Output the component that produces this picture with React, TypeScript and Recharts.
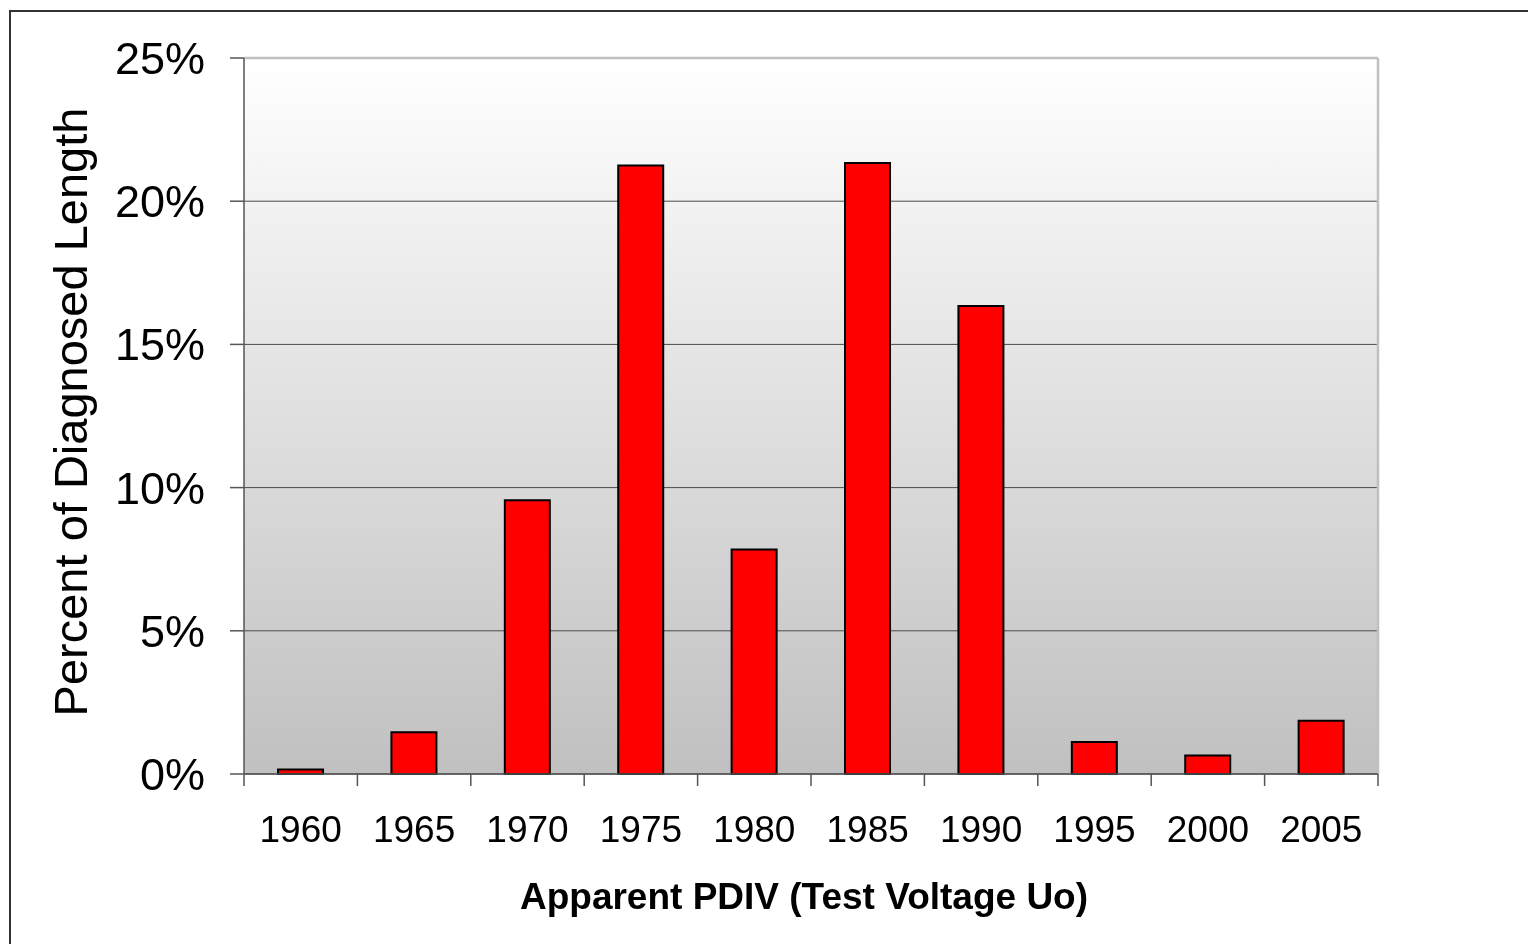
import React from "react";
import { BarChart, Bar, XAxis, YAxis, CartesianGrid, ReferenceLine } from "recharts";

const categories = ["1960", "1965", "1970", "1975", "1980", "1985", "1990", "1995", "2000", "2005"];
const percentValues = [0.16, 1.46, 9.56, 21.25, 7.84, 21.33, 16.34, 1.12, 0.65, 1.86];
const yTicks = [0, 5, 10, 15, 20, 25];

const data = categories.map((c, i) => ({ year: c, value: percentValues[i] }));

const FONT = "'Liberation Sans', Arial, sans-serif";

const XTick = (props: any) => {
  const { x, y, payload, index, visibleTicksCount, width } = props;
  const count = visibleTicksCount || categories.length;
  const half = width / count / 2;
  const last = index === count - 1;
  return (
    <g>
      <line x1={x - half} x2={x - half} y1={y} y2={y + 12} stroke="#555" strokeWidth={1.5} />
      {last && <line x1={x + half} x2={x + half} y1={y} y2={y + 12} stroke="#555" strokeWidth={1.5} />}
      <text x={x} y={y + 68} textAnchor="middle" fontSize={37} fill="#000" fontFamily={FONT}>
        {payload.value}
      </text>
    </g>
  );
};

export default function App() {
  return (
    <div style={{ position: "relative", width: 1512, height: 928, background: "#fff" }}>
      <div
        style={{
          position: "fixed",
          left: 9,
          top: 10,
          width: 1700,
          height: 1100,
          border: "2px solid #333",
          boxSizing: "border-box",
          pointerEvents: "none",
        }}
      />
      <div style={{ position: "absolute", left: 0, top: 0 }}>
        <BarChart
          width={1512}
          height={928}
          data={data}
          margin={{ top: 50, right: 142, left: 0, bottom: 27 }}
          barCategoryGap="30%"
        >
          <defs>
            <linearGradient id="bgGrad" x1="0" y1="0" x2="0" y2="1">
              <stop offset="0%" stopColor="#ffffff" />
              <stop offset="100%" stopColor="#c0c0c0" />
            </linearGradient>
          </defs>
          <CartesianGrid vertical={false} stroke="#4a4a4a" strokeWidth={1} fill="url(#bgGrad)" fillOpacity={1} />
          <XAxis
            dataKey="year"
            height={135}
            tickLine={false}
            tickSize={0}
            tickMargin={0}
            axisLine={{ stroke: "#555", strokeWidth: 1.5 }}
            tick={<XTick />}
            interval={0}
            label={{
              value: "Apparent PDIV (Test Voltage Uo)",
              position: "insideBottom",
              offset: 0,
              dx: -7,
              style: { fontSize: 37, fontWeight: "bold", fill: "#000", fontFamily: FONT },
            }}
          />
          <YAxis
            width={236}
            domain={[0, 25]}
            ticks={yTicks}
            interval={0}
            tickFormatter={(v: number) => `${v}%`}
            tickSize={14}
            tickMargin={25}
            tickLine={{ stroke: "#555", strokeWidth: 1.5 }}
            axisLine={{ stroke: "#555", strokeWidth: 1.5 }}
            tick={{ fontSize: 45, fill: "#000", fontFamily: FONT }}
            label={{
              value: "Percent of Diagnosed Length",
              angle: -90,
              position: "insideLeft",
              offset: 62,
              dy: -4,
              style: { fontSize: 47, fill: "#000", fontFamily: FONT, textAnchor: "middle" },
            }}
          />
          <ReferenceLine y={25} stroke="#c0c0c0" strokeWidth={2.5} />
          <ReferenceLine x="2005" position="end" stroke="#c0c0c0" strokeWidth={2.5} />
          <Bar dataKey="value" fill="#ff0000" stroke="#000" strokeWidth={2} isAnimationActive={false} />
        </BarChart>
      </div>
    </div>
  );
}
